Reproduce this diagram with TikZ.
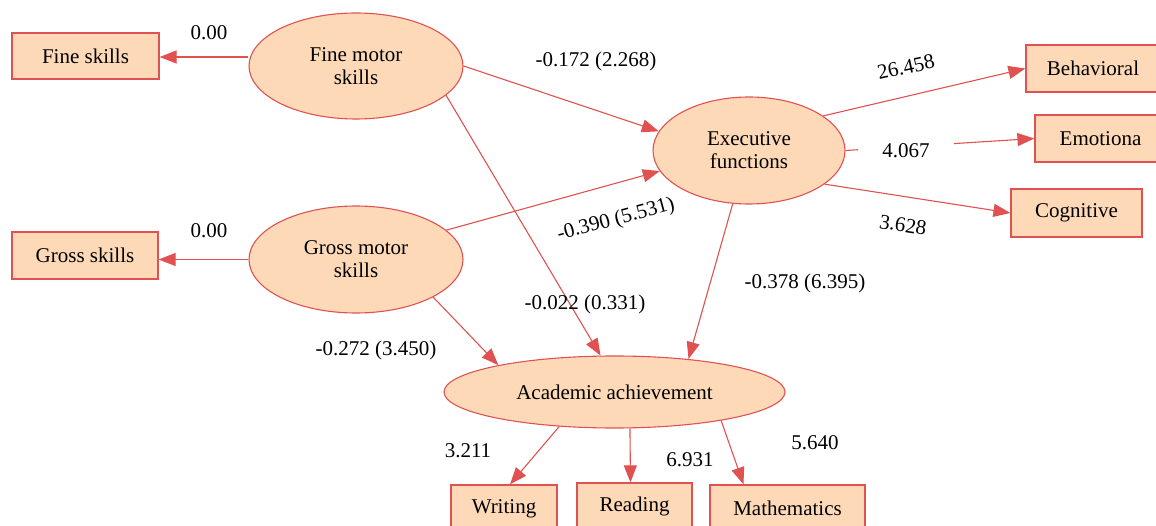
\documentclass[tikz,border=0pt]{standalone}
\usepackage{fontspec}
\setmainfont{Liberation Serif}
\usetikzlibrary{shapes.geometric,arrows.meta}
\definecolor{peach}{RGB}{253,217,183}
\definecolor{edgered}{RGB}{224,82,82}
\begin{document}
\begin{tikzpicture}[x=1pt,y=-1pt,
  lat/.style={ellipse,draw=edgered,fill=peach,line width=1.1pt,inner sep=0pt,align=center,font=\fontsize{21}{23}\selectfont},
  obs/.style={rectangle,draw=edgered,fill=peach,line width=1.2pt,inner sep=0pt,font=\fontsize{21}{24}\selectfont},
  arr/.style={draw=edgered,line width=1.1pt,-{Triangle[length=17pt,width=13pt]}},
  lab/.style={font=\fontsize{21}{24}\selectfont,inner sep=1pt}]
\clip (0,0) rectangle (1156,526);
\fill[white] (0,0) rectangle (1156,526);
% nodes
\node[obs,minimum width=147pt,minimum height=46pt] (fs) at (85.5,56) {Fine skills};
\node[obs,minimum width=146pt,minimum height=47pt] (gs) at (85,255.5) {Gross skills};
\node[lat,minimum width=214pt,minimum height=106pt] (fm) at (356,66) {Fine motor\\skills};
\node[lat,minimum width=214pt,minimum height=107pt] (gm) at (356,259.5) {Gross motor\\skills};
\node[lat,minimum width=192pt,minimum height=107pt] (ef) at (749,150.5) {Executive\\functions};
\node[lat,minimum width=341pt,minimum height=72pt] (ac) at (614.5,392) {Academic achievement};
\node[obs,minimum width=134pt,minimum height=47pt] (bh) at (1093,68.5) {Behavioral};
\node[obs,minimum width=131pt,minimum height=47pt] (em) at (1100.5,138.5) {Emotiona};
\node[obs,minimum width=131pt,minimum height=48pt] (cg) at (1076.5,213) {Cognitive};
\node[obs,minimum width=106pt,minimum height=47pt] (wr) at (504,508.5) {Writing};
\node[obs,minimum width=115pt,minimum height=47pt] (rd) at (634.5,506.5) {Reading};
\node[obs,minimum width=155pt,minimum height=47pt] (ma) at (787.5,508.5) {Mathematics};
% edges
\draw[arr] ([yshift=9pt]fm.west) -- ([yshift=9pt]fm.west -| fs.east);
\draw[arr] (gm.west) -- (gm.west -| gs.east);
\draw[arr] (fm.east) -- (ef.168);
\draw[arr] (gm.18) -- (ef.193);
\draw[arr] (fm.342) -- (ac.111);
\draw[arr] (gm.334) -- (ac.167);
\draw[arr] (ef.253) -- (ac.24);
\draw[arr] (ef.25) -- (bh.west);
\draw[arr] (ef.east) -- (em.west);
\draw[arr] (ef.336) -- (cg.west);
\draw[arr] (ac.212) -- ([xshift=6pt]wr.north);
\draw[arr] (ac.293) -- ([xshift=-4pt]rd.north);
\draw[arr] (ac.345) -- ([xshift=-44pt]ma.north);
% labels
\node[lab] (l1) at (209,33) {0.00};
\node[lab] (l2) at (209,231) {0.00};
\node[lab] (l3) at (596,61) {-0.172 (2.268)};
\node[lab,rotate=12] (l4) at (906,67) {26.458};
\node[lab,fill=white,inner xsep=24pt] (l5) at (906,151) {4.067};
\node[lab,rotate=-9] (l6) at (903,225) {3.628};
\node[lab,rotate=15] (l7) at (616,220) {-0.390 (5.531)};
\node[lab] (l8) at (585,304) {-0.022 (0.331)};
\node[lab] (l9) at (805,283) {-0.378 (6.395)};
\node[lab] (l10) at (376,350) {-0.272 (3.450)};
\node[lab] (l11) at (468,451) {3.211};
\node[lab] (l12) at (690,460) {6.931};
\node[lab] (l13) at (815,443) {5.640};
\end{tikzpicture}
\end{document}
